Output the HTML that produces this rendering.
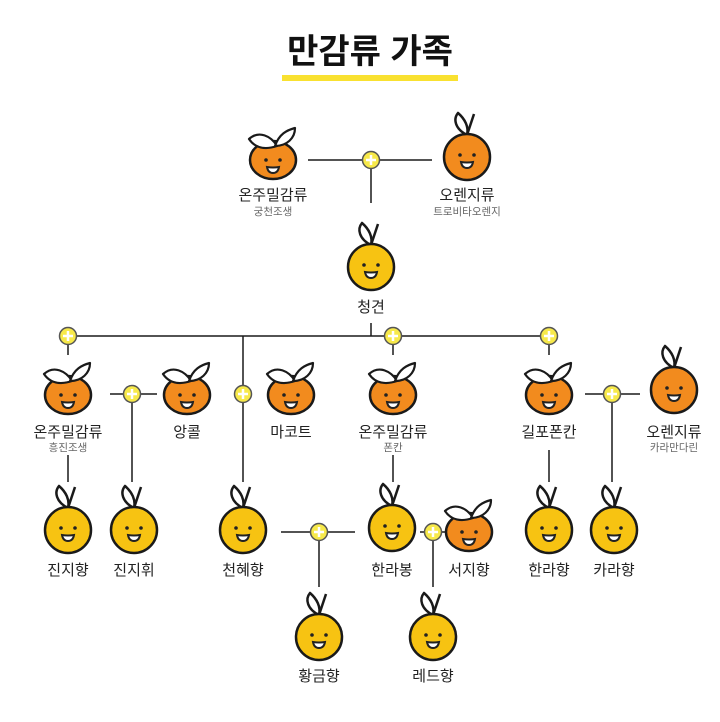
<!DOCTYPE html>
<html><head><meta charset="utf-8"><style>
body{margin:0;background:#fff;}
svg text{font-family:"Liberation Sans","Noto Sans CJK KR",sans-serif;}
.l{font-size:15px;fill:#222;text-anchor:middle;}
.s{font-size:10.5px;fill:#666;text-anchor:middle;}
</style></head><body>
<svg width="720" height="717" viewBox="0 0 720 717" xmlns="http://www.w3.org/2000/svg">
<defs>
<g id="face"><circle cx="-7" cy="-2" r="1.8" fill="#222"/><circle cx="7" cy="-2" r="1.8" fill="#222"/><path d="M-6,5 Q0,6 6,5 Q5,11 0,11 Q-5,11 -6,5Z" fill="#fff" stroke="#222" stroke-width="2"/></g>
<g id="leafs"><path d="M0,-22 C-12,-28 -14,-38 -9,-44 C-2,-38 2,-30 0,-22Z" fill="#fff" stroke="#1a1a1a" stroke-width="2.5" stroke-linejoin="round"/><path d="M0,-22 L7,-43" stroke="#1a1a1a" stroke-width="2.5"/></g>
<g id="yel"><use href="#leafs"/><circle r="23" fill="#f7c312" stroke="#1a1a1a" stroke-width="2.5"/><use href="#face"/></g>
<g id="org"><use href="#leafs"/><circle r="23" fill="#f28b1e" stroke="#1a1a1a" stroke-width="2.5"/><use href="#face"/></g>
<g id="man"><ellipse cx="0" cy="2" rx="23" ry="19" fill="#f28b1e" stroke="#1a1a1a" stroke-width="2.5"/><path d="M-24,-19 C-14,-28 -2,-22 4,-12 C-8,-8 -18,-10 -24,-19Z" fill="#fff" stroke="#1a1a1a" stroke-width="2.2" stroke-linejoin="round"/><path d="M2,-12 C6,-24 14,-28 22,-30 C22,-20 14,-12 2,-12Z" fill="#fff" stroke="#1a1a1a" stroke-width="2.2" stroke-linejoin="round"/><g transform="translate(0,4)"><use href="#face"/></g></g>
<g id="plus"><circle r="8.5" fill="#f7e94a" stroke="#555" stroke-width="1.5"/><path d="M-5,0H5M0,-5V5" stroke="#fff" stroke-width="2.5"/></g>
</defs>
<text x="370" y="63" font-size="34" font-weight="bold" text-anchor="middle" fill="#111">만감류 가족</text>
<rect x="282" y="75" width="176" height="6" fill="#f9e130"/>
<g stroke="#1a1a1a" stroke-width="1.5" fill="none">
<path d="M308,160H432M371,160V203"/>
<path d="M371,323V336M68,336H549M68,336V355M393,336V355M549,336V355M243,336V482"/>
<path d="M110,394H157M132,394V482M585,394H640M612,394V482"/>
<path d="M68,455V482M393,455V482M549,450V482"/>
<path d="M281,532H355M319,532V587M420,532H446M433,532V587"/>
</g>
<use href="#plus" x="371" y="160"/>
<use href="#plus" x="68" y="336"/><use href="#plus" x="393" y="336"/><use href="#plus" x="549" y="336"/>
<use href="#plus" x="243" y="394"/><use href="#plus" x="132" y="394"/><use href="#plus" x="612" y="394"/>
<use href="#plus" x="319" y="532"/><use href="#plus" x="433" y="532"/>
<use href="#man" x="273" y="158"/><use href="#org" x="467" y="157"/>
<use href="#yel" x="371" y="267"/>
<use href="#man" x="68" y="393"/><use href="#man" x="187" y="393"/><use href="#man" x="291" y="393"/><use href="#man" x="393" y="393"/><use href="#man" x="549" y="393"/><use href="#org" x="674" y="390"/>
<use href="#yel" x="68" y="530"/><use href="#yel" x="134" y="530"/><use href="#yel" x="243" y="530"/><use href="#yel" x="392" y="528"/><use href="#man" x="469" y="530"/><use href="#yel" x="549" y="530"/><use href="#yel" x="614" y="530"/>
<use href="#yel" x="319" y="637"/><use href="#yel" x="433" y="637"/>
<text class="l" x="273" y="200">온주밀감류</text><text class="s" x="273" y="215">궁천조생</text>
<text class="l" x="467" y="200">오렌지류</text><text class="s" x="467" y="215">트로비타오렌지</text>
<text class="l" x="371" y="312">청견</text>
<text class="l" x="68" y="437">온주밀감류</text><text class="s" x="68" y="451">흥진조생</text>
<text class="l" x="187" y="437">앙콜</text><text class="l" x="291" y="437">마코트</text>
<text class="l" x="393" y="437">온주밀감류</text><text class="s" x="393" y="451">폰칸</text>
<text class="l" x="549" y="437">길포폰칸</text>
<text class="l" x="674" y="437">오렌지류</text><text class="s" x="674" y="451">카라만다린</text>
<text class="l" x="68" y="575">진지향</text><text class="l" x="134" y="575">진지휘</text><text class="l" x="243" y="575">천혜향</text><text class="l" x="392" y="575">한라봉</text><text class="l" x="469" y="575">서지향</text><text class="l" x="549" y="575">한라향</text><text class="l" x="614" y="575">카라향</text>
<text class="l" x="319" y="681">황금향</text><text class="l" x="433" y="681">레드향</text>
</svg>
</body></html>
